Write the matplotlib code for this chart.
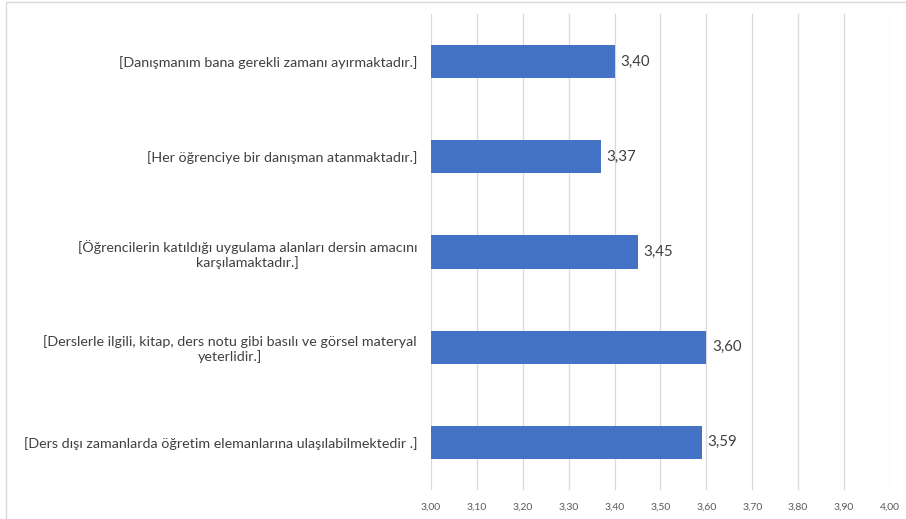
import matplotlib

matplotlib.use("Agg")

import matplotlib.pyplot as plt
from matplotlib.patches import Rectangle

BAR = "#4472C4"
GRID = "#d9d9d9"
TEXT = "#404040"
MUTED = "#595959"

labels = [
    "[Danışmanım bana gerekli zamanı ayırmaktadır.]",
    "[Her öğrenciye bir danışman atanmaktadır.]",
    "[Öğrencilerin katıldığı uygulama alanları dersin amacını\nkarşılamaktadır.]",
    "[Derslerle ilgili, kitap, ders notu gibi basılı ve görsel materyal\nyeterlidir.]",
    "[Ders dışı zamanlarda öğretim elemanlarına ulaşılabilmektedir .]",
]
values = [3.40, 3.37, 3.45, 3.60, 3.59]
xticks = [3.0, 3.1, 3.2, 3.3, 3.4, 3.5, 3.6, 3.7, 3.8, 3.9, 4.0]

plt.rcParams["font.family"] = ["Lato", "DejaVu Sans"]

fig = plt.figure(figsize=(9.06, 5.19), dpi=100, facecolor="white")
ax = fig.add_axes([0.4757, 0.0559, 0.5066, 0.9171])

y = list(range(len(values)))
ax.barh(y, [v - 3.0 for v in values], left=3.0, height=0.35, color=BAR, zorder=3)
for yi, v in zip(y, values):
    ax.text(v + 0.012, yi, f"{v:.2f}".replace(".", ","), va="center", ha="left",
            fontsize=10.8, color=TEXT)

ax.set_xlim(3.0, 4.0)
ax.set_ylim(len(values) - 0.5, -0.5)
ax.set_xticks(xticks)
ax.set_xticklabels([f"{t:.2f}".replace(".", ",") for t in xticks], fontsize=7.5, color=MUTED)
ax.set_yticks(y)
ax.set_yticklabels(labels, fontsize=10.3, color=TEXT, multialignment="center")
ax.tick_params(axis="both", length=0)
ax.tick_params(axis="x", pad=9)
ax.tick_params(axis="y", pad=10)
ax.grid(axis="x", color=GRID, linewidth=0.9, zorder=0)
for s in ax.spines.values():
    s.set_visible(False)

# chart frame (clipped by figure edge on right/bottom)
fig.patches.append(Rectangle((6 / 906, -0.1), 1.1, 1.1 - 2 / 519, transform=fig.transFigure,
                             fill=False, edgecolor=GRID, linewidth=1.0))

fig.savefig("out.png", dpi=100, facecolor="white")
